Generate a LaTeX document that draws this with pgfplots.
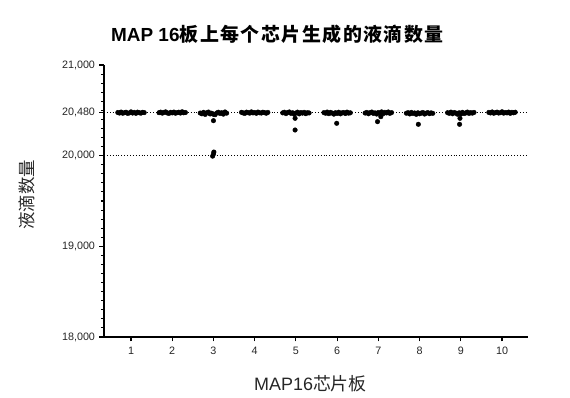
\documentclass[border=0pt]{standalone}
\usepackage{pgfplots}
\pgfplotsset{compat=1.18}
\usepackage{fontspec}
\setmainfont{Liberation Sans}
\newfontfamily\cjk{Noto Sans CJK SC}
\newfontfamily\cjkb[LetterSpace=8]{Noto Sans CJK SC Bold}
\begin{document}
\begin{tikzpicture}[dots/.style={only marks, mark=*, mark size=2.3bp, black, mark options={fill=black, draw=black}}]
\begin{axis}[
  scale only axis, width=424bp, height=272bp,
  xmin=0.345, xmax=10.63, ymin=18000, ymax=21000,
  axis lines=left, axis line style={line width=1.5pt, -},
  xtick={1,2,3,4,5,6,7,8,9,10},
  ytick={18000,19000,20000,20480,21000},
  minor ytick={18100,18200,18300,18400,18500,18600,18700,18800,18900,19100,19200,19300,19400,19500,19600,19700,19800,19900,20100,20200,20300,20400,20500,20600,20700,20800,20900},
  tick align=outside, tick pos=left,
  major tick length=4.5bp, minor tick length=3bp,
  tick style={line width=1.1pt, black},
  /pgf/number format/assume math mode=true,
  /pgf/number format/1000 sep={,},
  scaled y ticks=false,
  ticklabel style={font=\fontsize{10.8}{12}\selectfont, text=black!85},
  yticklabel style={xshift=-1bp},
  xticklabel style={yshift=-2bp},
  clip=false,
]
\addplot[black, dotted, line width=0.9pt, forget plot] coordinates {(0.345,20480) (10.63,20480)};
\addplot[black, dotted, line width=0.9pt, forget plot] coordinates {(0.345,20000) (10.63,20000)};
% chip 1
\addplot[dots] coordinates {(0.68,20476)(0.72,20470)(0.76,20481)(0.80,20468)(0.84,20474)(0.88,20479)(0.92,20466)(0.96,20472)(1.00,20483)(1.04,20470)(1.08,20477)(1.12,20467)(1.16,20480)(1.20,20473)(1.24,20469)(1.28,20478)(1.32,20475)};
% chip 2
\addplot[dots] coordinates {(1.68,20474)(1.72,20480)(1.76,20469)(1.80,20477)(1.84,20483)(1.88,20471)(1.92,20466)(1.96,20478)(2.00,20472)(2.04,20481)(2.08,20468)(2.12,20475)(2.16,20479)(2.20,20470)(2.24,20484)(2.28,20473)(2.32,20476)};
% chip 3
\addplot[dots] coordinates {(2.68,20470)(2.72,20462)(2.76,20478)(2.80,20455)(2.84,20473)(2.88,20481)(2.92,20460)(2.96,20468)(3.00,20456)(3.04,20452)(3.08,20471)(3.12,20479)(3.16,20465)(3.20,20474)(3.24,20458)(3.28,20482)(3.32,20469)(3.00,20386)(3.01,20040)(3.00,20018)(2.98,19995)};
% chip 4
\addplot[dots] coordinates {(3.68,20478)(3.72,20471)(3.76,20466)(3.80,20480)(3.84,20474)(3.88,20469)(3.92,20483)(3.96,20472)(4.00,20476)(4.04,20467)(4.08,20481)(4.12,20473)(4.16,20470)(4.20,20479)(4.24,20475)(4.28,20468)(4.32,20477)};
% chip 5
\addplot[dots] coordinates {(4.68,20472)(4.72,20479)(4.76,20464)(4.80,20476)(4.84,20482)(4.88,20467)(4.92,20473)(4.96,20458)(5.00,20470)(5.04,20480)(5.08,20461)(5.12,20475)(5.16,20469)(5.20,20478)(5.24,20463)(5.28,20474)(5.32,20471)(4.98,20412)(4.98,20283)};
% chip 6
\addplot[dots] coordinates {(5.68,20475)(5.72,20468)(5.76,20481)(5.80,20463)(5.84,20477)(5.88,20470)(5.92,20458)(5.96,20474)(6.00,20466)(6.04,20479)(6.08,20461)(6.12,20472)(6.16,20476)(6.20,20465)(6.24,20480)(6.28,20469)(6.32,20473)(5.99,20357)};
% chip 7
\addplot[dots] coordinates {(6.68,20470)(6.72,20477)(6.76,20462)(6.80,20474)(6.84,20481)(6.88,20466)(6.92,20472)(6.96,20459)(7.00,20476)(7.04,20468)(7.08,20483)(7.12,20464)(7.16,20478)(7.20,20471)(7.24,20482)(7.28,20467)(7.32,20475)(7.06,20430)(6.98,20375)};
% chip 8
\addplot[dots] coordinates {(7.68,20468)(7.72,20474)(7.76,20460)(7.80,20477)(7.84,20465)(7.88,20471)(7.92,20456)(7.96,20473)(8.00,20462)(8.04,20470)(8.08,20476)(8.12,20459)(8.16,20469)(8.20,20475)(8.24,20463)(8.28,20472)(8.32,20467)(7.97,20346)};
% chip 9
\addplot[dots] coordinates {(8.68,20474)(8.72,20467)(8.76,20480)(8.80,20462)(8.84,20476)(8.88,20470)(8.92,20457)(8.96,20473)(9.00,20460)(9.04,20478)(9.08,20465)(9.12,20471)(9.16,20481)(9.20,20466)(9.24,20475)(9.28,20469)(9.32,20477)(8.98,20412)(8.97,20346)};
% chip 10
\addplot[dots] coordinates {(9.68,20477)(9.72,20471)(9.76,20482)(9.80,20468)(9.84,20475)(9.88,20480)(9.92,20470)(9.96,20474)(10.00,20484)(10.04,20469)(10.08,20476)(10.12,20472)(10.16,20481)(10.20,20467)(10.24,20478)(10.28,20473)(10.32,20479)};
\coordinate (sw) at (rel axis cs:0,0);
\end{axis}
\node[anchor=center, inner sep=0pt] at ([shift={(173.5bp,303bp)}]sw) {\fontsize{19}{22}\selectfont\bfseries MAP 16\cjkb 板上每个芯片生成的液滴数量};
\node[anchor=center, inner sep=0pt, text=black!85] at ([shift={(206.5bp,-47bp)}]sw) {\fontsize{18}{21}\selectfont MAP16\cjk 芯片板};
\node[anchor=center, inner sep=0pt, rotate=90, text=black!85] at ([shift={(-77bp,142bp)}]sw) {\cjk\fontsize{17.5}{20}\selectfont 液滴数量};
\path[use as bounding box] ([shift={(-104bp,-61bp)}]sw) rectangle ([shift={(466bp,337bp)}]sw);
\end{tikzpicture}
\end{document}
